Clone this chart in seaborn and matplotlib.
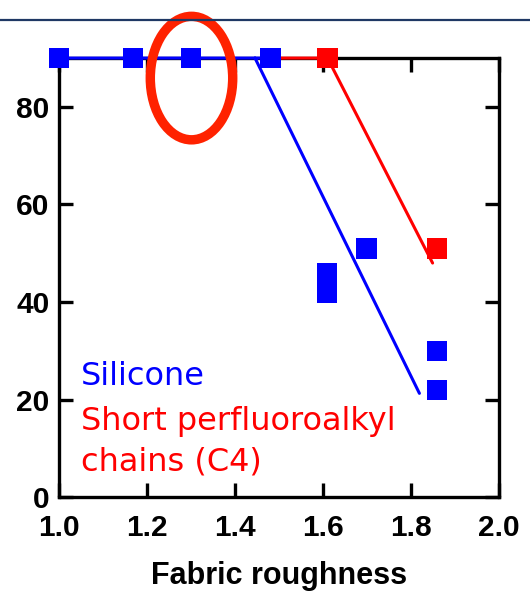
import numpy as np
import pandas as pd
import matplotlib
matplotlib.use("Agg")
import matplotlib.pyplot as plt
from matplotlib.patches import Ellipse
from matplotlib.lines import Line2D
import seaborn as sns

# Measured points (contact angle vs fabric roughness)
silicone_roughness = [1.0, 1.169, 1.30, 1.481, 1.61, 1.61, 1.70, 1.86, 1.86]
silicone_angle = [90, 90, 90, 90, 46, 42, 51, 30, 22]
c4_roughness = [1.611, 1.86]
c4_angle = [90, 51]

# Trend lines (NaN splits the silicone path into two segments)
silicone_trend_x = [1.0, 1.481, np.nan, 1.446, 1.82]
silicone_trend_y = [90, 90, np.nan, 90, 21.3]
c4_trend_x = [1.481, 1.611, 1.85]
c4_trend_y = [90, 90, 48]

x_ticks = [1.0, 1.2, 1.4, 1.6, 1.8, 2.0]
y_ticks = [0, 20, 40, 60, 80]
x_label = "Fabric roughness"
series_labels = ["Silicone", "Short perfluoroalkyl", "chains (C4)"]

BLUE = "#0000FF"
RED = "#FF0000"

sns.set_theme(style="white")
plt.rcParams["font.family"] = ["Liberation Sans", "DejaVu Sans"]

fig = plt.figure(figsize=(5.30, 5.95), dpi=100)
ax = fig.add_axes([0.1113, 0.1642, 0.8293, 0.7382])

sil_pts = pd.DataFrame({"r": silicone_roughness, "a": silicone_angle})
c4_pts = pd.DataFrame({"r": c4_roughness, "a": c4_angle})

ax.plot(c4_trend_x, c4_trend_y, color=RED, lw=2.2, zorder=3, clip_on=False)
ax.plot(silicone_trend_x, silicone_trend_y, color=BLUE, lw=2.2, zorder=4, clip_on=False)

sns.scatterplot(data=sil_pts, x="r", y="a", marker="s", s=215, color=BLUE,
                edgecolor="none", linewidth=0, ax=ax, zorder=5, clip_on=False)
sns.scatterplot(data=c4_pts, x="r", y="a", marker="s", s=215, color=RED,
                edgecolor="none", linewidth=0, ax=ax, zorder=5, clip_on=False)

ax.set_xlim(1.0, 2.0)
ax.set_ylim(0, 90)
ax.set_xticks(x_ticks)
ax.set_xticklabels([f"{v:.1f}" for v in x_ticks])
ax.set_yticks(y_ticks)
ax.set_yticklabels([str(v) for v in y_ticks])

for side in ["left", "right", "top", "bottom"]:
    ax.spines[side].set_visible(True)
    ax.spines[side].set_color("black")
    ax.spines[side].set_linewidth(2.4)

ax.tick_params(axis="both", which="both", direction="in", length=10, width=2.4,
               color="black", labelcolor="black", top=True, right=True,
               bottom=True, left=True, labeltop=False, labelright=False)
ax.tick_params(axis="x", pad=12, labelsize=21.5)
ax.tick_params(axis="y", pad=7, labelsize=21.5)
for lab in ax.get_xticklabels() + ax.get_yticklabels():
    lab.set_fontweight("bold")

ax.set_xlabel(x_label, fontsize=22, fontweight="bold", labelpad=14, color="black")
ax.set_ylabel("")

# Series labels drawn directly on the plot
label_font = ["DejaVu Sans"]
ax.text(0.049, 0.256, series_labels[0], transform=ax.transAxes, color=BLUE,
        fontsize=23, family=label_font, va="baseline")
ax.text(0.049, 0.153, series_labels[1], transform=ax.transAxes,
        color=RED, fontsize=23, family=label_font, va="baseline")
ax.text(0.049, 0.062, series_labels[2], transform=ax.transAxes,
        color=RED, fontsize=23, family=label_font, va="baseline")

# Highlight around the point at 1.3
ax.add_patch(Ellipse((1.3015, 85.9), 0.1875, 25.3, fill=False,
                     edgecolor="#FF2200", lw=6.8, zorder=6, clip_on=False))

# Rule across the top of the figure
fig.add_artist(Line2D([0, 1], [1 - 19.5 / 595] * 2, transform=fig.transFigure,
                      color="#1F3864", lw=1.6))

fig.savefig("out.png", dpi=100)
